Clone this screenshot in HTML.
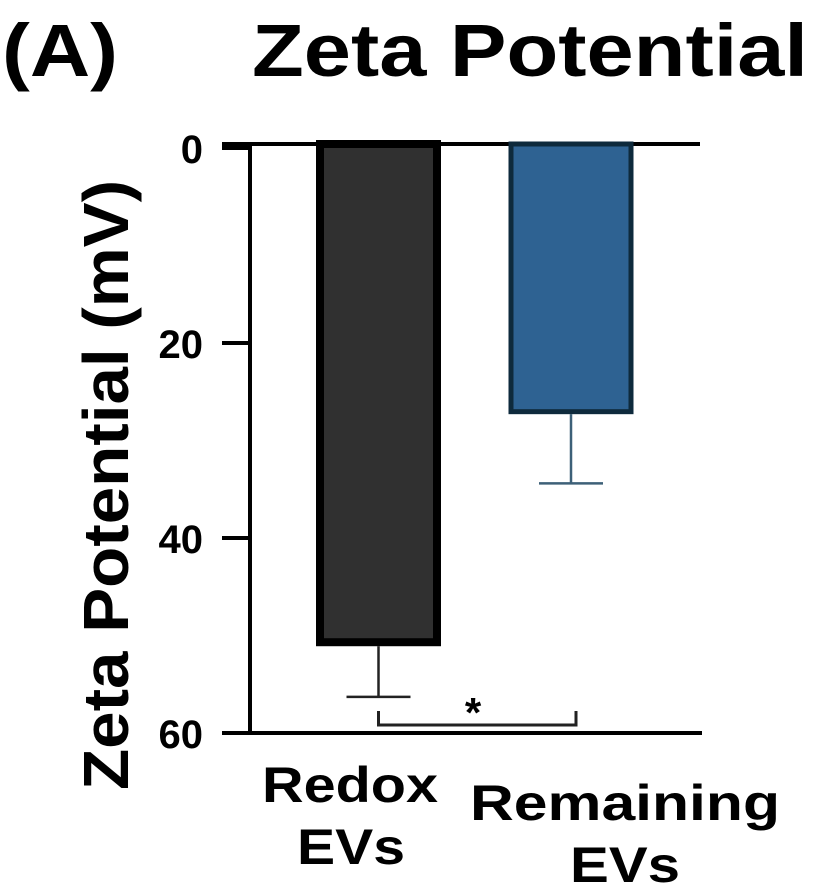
<!DOCTYPE html>
<html><head><meta charset="utf-8"><style>
body{margin:0;background:#fff}
svg text{font-family:"Liberation Sans",Arial,sans-serif;font-weight:bold;fill:#000}
</style></head><body>
<svg id="chart" width="814" height="884" viewBox="0 0 814 884" xmlns="http://www.w3.org/2000/svg">
<text x="2" y="76" font-size="74" textLength="116" lengthAdjust="spacingAndGlyphs">(A)</text>
<text x="252" y="76" font-size="74" textLength="556" lengthAdjust="spacingAndGlyphs">Zeta Potential</text>
<text transform="translate(128,485) rotate(-90)" text-anchor="middle" font-size="64" textLength="610" lengthAdjust="spacingAndGlyphs">Zeta Potential (mV)</text>
<g id="axes"></g>
<g id="bars"></g>
</svg>
<script>
const categories = [["Redox","EVs"],["Remaining","EVs"]];
const values = [51.1, 27.3];
const errors = [5.2, 7.1];
const ticks = [0, 20, 40, 60];
const colors = ["#303030","#2e6292"];
const strokes = ["#000","#0e2a3c"];

const NS="http://www.w3.org/2000/svg";
const y0=148, y1=733, vmax=60;
const yScale=v=>y0+(v/vmax)*(y1-y0);
const centers=[378.5,571];
const bw=125;
const labelX=[[350,351],[625,625]];
const labelW=[[176,108],[310,110]];
function mk(tag,attrs,parent){const e=document.createElementNS(NS,tag);for(const k in attrs)e.setAttribute(k,attrs[k]);parent.appendChild(e);return e;}
const axesG=document.getElementById('axes'), barsG=document.getElementById('bars');

ticks.forEach((t,i)=>{
  const yy=yScale(t);
  const tl=mk('line',{x1:222,x2:250,y1:yy,y2:yy,stroke:'#000','stroke-width':4},axesG);
  
  
  const tx=mk('text',{x:203,y:yy+15,'text-anchor':'end','font-size':40},axesG);
  tx.textContent=t;
  
  
});
const axLine=mk('line',{x1:250,x2:250,y1:y0-4,y2:y1+2,stroke:'#000','stroke-width':4},axesG);


const topLine=mk('line',{x1:222,x2:700,y1:y0-4,y2:y0-4,stroke:'#000','stroke-width':4},axesG);


const botLine=mk('line',{x1:222,x2:702,y1:y1,y2:y1,stroke:'#000','stroke-width':4},axesG);



values.forEach((v,i)=>{
  const cx=centers[i], yb=yScale(v);
  const sw=i===0?8:5;
  const r=mk('rect',{x:cx-bw/2+sw/2,y:y0-4,width:bw-sw,height:yb-y0+4-sw/2,fill:colors[i],stroke:strokes[i],'stroke-width':sw},barsG);
  
  
  const ye=yScale(v+errors[i]);
  const ec=i===0?'#222':'#3d6078';
  const e1=mk('line',{x1:cx,x2:cx,y1:yb,y2:ye,stroke:ec,'stroke-width':2.5},barsG);
  
  
  const e2=mk('line',{x1:cx-32,x2:cx+32,y1:ye,y2:ye,stroke:ec,'stroke-width':2.5},barsG);
  
  
  categories[i].forEach((ln,j)=>{
    const t=mk('text',{x:labelX[i][j],y:802+j*62+(i===1?18:0),'text-anchor':'middle','font-size':50,textLength:labelW[i][j],lengthAdjust:'spacingAndGlyphs'},barsG);
    t.textContent=ln;
    
    
  });
});
const by=725;
const br=mk('path',{d:`M${centers[0]} ${by-14} V${by} H${576} V${by-14}`,fill:'none',stroke:'#222','stroke-width':3},barsG);


const st=mk('text',{x:473,y:727,'text-anchor':'middle','font-size':42},barsG);
st.textContent='*';


</script>
</body></html>
